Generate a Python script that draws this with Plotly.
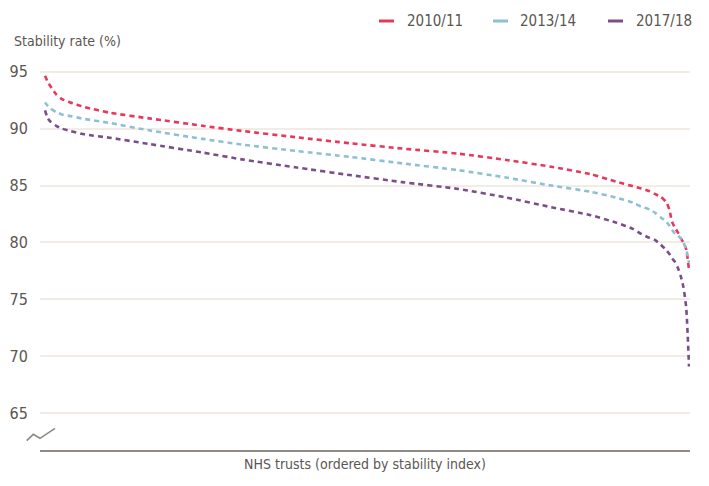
import plotly.graph_objects as go

# Trust rank (ordered by stability index) and stability rates (%)
ranks = [1, 2, 3, 5, 7, 10, 15, 24, 38, 57, 71, 90, 110, 128, 148, 165, 181, 195,
         204, 210, 213, 216, 218, 220, 222, 223, 224, 225, 226, 227, 228, 229, 230]

rate_2010 = [94.65, 94.1, 93.7, 93.0, 92.6, 92.3, 91.9, 91.4, 90.9, 90.25, 89.8, 89.25,
             88.7, 88.25, 87.8, 87.25, 86.65, 86.0, 85.35, 84.95, 84.75, 84.5, 84.25,
             84.0, 83.5, 82.9, 81.8, 81.3, 80.9, 80.4, 80.0, 79.4, 77.6]

rate_2013 = [92.3, 92.0, 91.75, 91.45, 91.25, 91.1, 90.85, 90.5, 89.85, 89.1, 88.6, 88.05,
             87.5, 86.95, 86.35, 85.7, 85.0, 84.45, 83.95, 83.5, 83.15, 82.9, 82.6,
             82.2, 81.8, 81.5, 81.1, 80.8, 80.6, 80.4, 80.0, 79.4, 78.2]

rate_2017 = [91.6, 90.9, 90.6, 90.25, 90.0, 89.8, 89.5, 89.2, 88.65, 87.9, 87.3, 86.6,
             85.9, 85.3, 84.7, 83.95, 83.1, 82.4, 81.75, 81.2, 80.75, 80.4, 80.2,
             79.8, 79.3, 79.0, 78.6, 78.3, 77.8, 77.1, 76.1, 74.3, 69.1]

series_names = ["2010/11", "2013/14", "2017/18"]
series_values = [rate_2010, rate_2013, rate_2017]
series_colors = ["#e8375b", "#8fbfd3", "#7b4d89"]

y_ticks = [65, 70, 75, 80, 85, 90, 95]

FONT = "DejaVu Sans Condensed, Liberation Sans Narrow, sans-serif"
TXT = "#5a5652"

fig = go.Figure()
for name, vals, col in zip(series_names, series_values, series_colors):
    fig.add_trace(go.Scatter(
        x=ranks, y=vals, mode="lines", name=name,
        line=dict(color=col, width=2.6, dash="5px,4px", shape="spline", smoothing=0.6),
        showlegend=False, hoverinfo="x+y",
    ))

# the page body adds an 8px offset, so the figure is 8px smaller and margins shifted
fig.update_layout(
    width=701, height=478,
    margin=dict(l=32, r=19, t=62, b=36, autoexpand=False),
    paper_bgcolor="white", plot_bgcolor="white",
    font=dict(family=FONT, color=TXT, size=15),
    xaxis=dict(
        range=[-0.78, 230.36], showticklabels=False, showgrid=False, zeroline=False,
        showline=True, linecolor="#8f8a85", linewidth=2, ticks="", automargin=False,
        title=dict(text="NHS trusts (ordered by stability index)",
                   font=dict(size=14, color=TXT, family=FONT), standoff=8),
    ),
    yaxis=dict(
        range=[61.77, 95.15], tickvals=y_ticks, showgrid=True, gridcolor="#f1ece5",
        gridwidth=2, zeroline=False, showline=False, automargin=False,
        ticks="outside", ticklen=8, tickcolor="rgba(0,0,0,0)",
        tickfont=dict(size=16, color=TXT, family=FONT),
    ),
)

# Axis title for y (top-left)
fig.add_annotation(text="Stability rate (%)", xref="paper", yref="paper",
                   x=(12 - 40) / 650, y=(450 - 41) / 380, xanchor="left", yanchor="middle",
                   showarrow=False, font=dict(size=14, color=TXT, family=FONT))

# Manual legend
leg = [(379, 394, 405), (493, 508, 518), (608, 623, 634)]
ly = (450 - 21) / 380
for (x0, x1, xt), name, col in zip(leg, series_names, series_colors):
    fig.add_shape(type="line", xref="paper", yref="paper",
                  x0=(x0 - 40) / 650, x1=(x1 - 40) / 650, y0=ly, y1=ly,
                  line=dict(color=col, width=3))
    fig.add_annotation(text=name, xref="paper", yref="paper", x=(xt - 40) / 650, y=ly,
                       xanchor="left", yanchor="middle", showarrow=False,
                       font=dict(size=15, color=TXT, family=FONT))

# Axis break zigzag
pts = [(26.7, 440.7), (33.3, 434.3), (40, 438.3), (55, 428.3)]
path = "M " + " L ".join(f"{(px - 40) / 650:.4f},{(450 - py) / 380:.4f}" for px, py in pts)
fig.add_shape(type="path", xref="paper", yref="paper", path=path,
              line=dict(color="#8f8a85", width=1.6))

fig.write_html("out.html")
